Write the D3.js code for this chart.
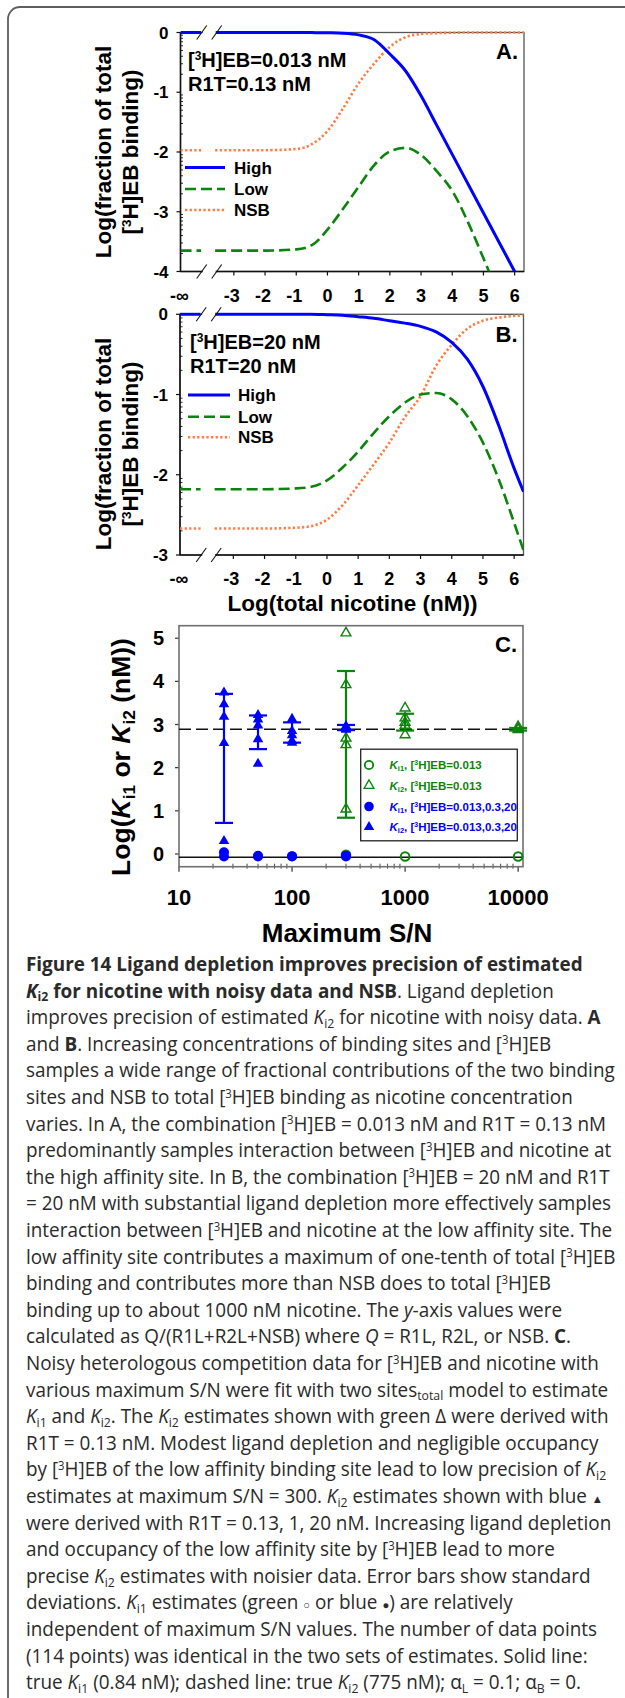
<!DOCTYPE html>
<html><head><meta charset="utf-8">
<script src="https://cdn.jsdelivr.net/npm/d3@7"></script>
<style>body{margin:0;background:#fff}svg{display:block}</style>
</head><body>
<svg id="c" width="625" height="1698"></svg>
<script>
// ---------- DATA ----------
const xTicksAB = [-3,-2,-1,0,1,2,3,4,5,6];
const xInfLabel = "-\u221E";
const curveX = [-3.6,-3,-2,-1,-0.5,0,0.5,1,1.5,2,2.5,3,3.5,4,4.5,5,5.5,6,6.3];
// Panel A (log fraction of total binding)
const highA = [0,0,0,0,-0.002,-0.005,-0.012,-0.04,-0.12,-0.36,-0.64,-1.06,-1.55,-2.04,-2.53,-3.02,-3.51,-4.0,-4.3];
const lowA  = [-3.65,-3.65,-3.65,-3.63,-3.56,-3.3,-2.95,-2.58,-2.22,-1.99,-1.93,-2.05,-2.32,-2.65,-3.17,-3.78,-4.4,null,null];
const nsbA  = [-1.97,-1.97,-1.97,-1.95,-1.87,-1.65,-1.27,-0.85,-0.52,-0.24,-0.08,-0.025,-0.01,-0.005,0,0,0,0,0];
const yTicksA = [0,-1,-2,-3,-4];
// Panel B
const highB = [0,0,0,0,0,-0.005,-0.012,-0.03,-0.05,-0.08,-0.11,-0.15,-0.22,-0.35,-0.56,-0.9,-1.38,-1.92,-2.21];
const lowB  = [-2.18,-2.18,-2.18,-2.17,-2.15,-2.07,-1.91,-1.71,-1.48,-1.27,-1.1,-1.0,-0.98,-1.06,-1.27,-1.6,-2.05,-2.6,-2.94];
const nsbB  = [-2.67,-2.67,-2.67,-2.66,-2.64,-2.56,-2.38,-2.13,-1.87,-1.6,-1.28,-1.02,-0.64,-0.38,-0.18,-0.08,-0.04,-0.02,-0.01];
const yTicksB = [0,-1,-2,-3];
const seriesNames = ["High","Low","NSB"];
// Panel C
const xTicksC = [10,100,1000,10000];
const yTicksC = [0,1,2,3,4,5];
const snBlue = [25,50,100,300];
const ki2Blue = [[3.74,3.47,3.18,2.57,0.30],[3.22,3.12,2.98,2.66,2.09],[3.13,2.85,2.75,2.62,2.58],[2.96,2.92,2.88,2.95,2.90]];
const ki1Blue = [[0.04,-0.06],[-0.04,-0.06],[-0.05,-0.06],[-0.04,-0.06]];
const sdBlue  = [[0.72,3.71],[2.43,3.21],[2.58,3.05],[2.87,2.99]];
const snGreen = [300,1000,10000];
const ki2Green = [[5.12,3.92,2.68,2.53,1.04],[3.38,3.15,3.05,2.98,2.76],[2.95,2.90,2.88]];
const ki1Green = [[-0.02],[-0.06],[-0.06]];
const sdGreen  = [[0.84,4.24],[2.86,3.25],[2.86,2.92]];
const trueKi1 = Math.log10(0.84);
const trueKi2 = Math.log10(775);

// ---------- STYLE ----------
const FONT = "'Liberation Sans', Arial, Helvetica, sans-serif";
const BLUE = "#0000ff", GREEN = "#0b840b", ORANGE = "#ff7d45";
const svg = d3.select("#c");

function rich(t, segs, size) {
  let shift = 0;
  segs.forEach(([s,k]) => {
    const ts = t.append("tspan").text(s);
    let target = 0, fs = null;
    if (k.includes("sub")) { target = size*0.2; fs = size*0.65; }
    else if (k === "sup") { target = -size*0.33; fs = size*0.6; }
    else if (k === "small") { fs = size*0.6; }
    ts.attr("dy", target - shift); shift = target;
    if (fs) ts.attr("font-size", fs);
    if (k.startsWith("b")) ts.attr("font-weight", "bold");
    if (k === "i" || k === "bi") ts.attr("font-style", "italic");
  });
}

// outer border
svg.append("rect").attr("x",8).attr("y",7).attr("width",800).attr("height",2000)
  .attr("rx",12).attr("fill","none").attr("stroke","#5e5e5e").attr("stroke-width",1.8);

// ---------- PANELS A & B ----------
function panelAB(c) {
  const x = d3.scaleLinear().domain([-4.71, 6.3]).range([c.left, c.right]);
  const y = d3.scaleLinear().domain([c.yMin, 0]).range([c.bottom, c.top]);
  const g = svg.append("g").attr("font-family", FONT);
  const cid = "clip" + c.label;
  svg.append("clipPath").attr("id", cid).append("rect")
    .attr("x", c.left).attr("y", c.top - 2).attr("width", c.right - c.left).attr("height", c.bottom - c.top + 2);

  // frame
  g.append("rect").attr("x", c.left).attr("y", c.top).attr("width", c.right - c.left).attr("height", c.bottom - c.top)
    .attr("fill","none").attr("stroke","#555").attr("stroke-width",1.3);
  g.append("line").attr("x1",c.left).attr("x2",c.left).attr("y1",c.top).attr("y2",c.bottom).attr("stroke","#111").attr("stroke-width",1.5);
  g.append("line").attr("x1",c.left).attr("x2",c.right).attr("y1",c.bottom).attr("y2",c.bottom).attr("stroke","#111").attr("stroke-width",1.5);

  // y ticks major + log minor
  c.yTicks.forEach(v => {
    g.append("line").attr("x1", c.left - 4).attr("x2", c.left).attr("y1", y(v)).attr("y2", y(v)).attr("stroke","#111").attr("stroke-width",1.2);
    g.append("text").attr("x", c.left - 12).attr("y", y(v) + 6).attr("text-anchor","end")
      .attr("font-size",17).attr("font-weight","bold").text(v);
  });
  for (let d = c.yMin; d < 0; d++) for (let k = 2; k <= 9; k++) {
    const v = d + Math.log10(k);
    g.append("line").attr("x1", c.left).attr("x2", c.left + 2.5).attr("y1", y(v)).attr("y2", y(v)).attr("stroke","#111").attr("stroke-width",0.9);
  }
  // x ticks
  xTicksAB.forEach(v => {
    g.append("line").attr("x1", x(v)).attr("x2", x(v)).attr("y1", c.bottom).attr("y2", c.bottom + 4).attr("stroke","#111").attr("stroke-width",1.2);
    g.append("text").attr("x", x(v) + (v < 0 ? -2 : 0)).attr("y", c.bottom + 30).attr("text-anchor","middle")
      .attr("font-size",18).attr("font-weight","bold").text(v);
  });
  g.append("text").attr("x", x(-4.71) - 1).attr("y", c.bottom + 30).attr("text-anchor","middle")
    .attr("font-size",18).attr("font-weight","bold").text(xInfLabel);

  // curves
  const cg = g.append("g").attr("clip-path", `url(#${cid})`);
  const series = [
    {v: c.nsb, color: ORANGE, w: 2.6, dash: "2.3,2.3"},
    {v: c.low, color: GREEN, w: 2.6, dash: "11,5"},
    {v: c.high, color: BLUE, w: 3, dash: null}
  ];
  const line = d3.line().defined(d => d[1] != null).x(d => x(d[0])).y(d => y(d[1])).curve(d3.curveMonotoneX);
  series.forEach(s => {
    const pts = curveX.map((xx, i) => [xx, s.v[i]]);
    cg.append("path").attr("d", line(pts)).attr("fill","none").attr("stroke", s.color)
      .attr("stroke-width", s.w).attr("stroke-dasharray", s.dash);
    cg.append("path").attr("d", line([[-4.71, s.v[0]],[-4.05, s.v[0]]])).attr("fill","none").attr("stroke", s.color)
      .attr("stroke-width", s.w).attr("stroke-dasharray", s.dash);
  });

  // axis breaks
  const bx1 = x(-4.03), bx2 = x(-3.55);
  [c.top, c.bottom].forEach(yy => {
    g.append("rect").attr("x", bx1 + 1).attr("y", yy - 2).attr("width", bx2 - bx1 - 2).attr("height", 4).attr("fill","#fff");
    [bx1, bx2].forEach(bx => {
      g.append("line").attr("x1", bx - 5).attr("x2", bx + 5).attr("y1", yy + 7).attr("y2", yy - 7)
        .attr("stroke","#111").attr("stroke-width",1.1);
    });
  });

  // panel label
  g.append("text").attr("x", c.right - 6).attr("y", c.labelY).attr("text-anchor","end")
    .attr("font-size",22).attr("font-weight","bold").text(c.label + ".");
  // condition text
  const t1 = g.append("text").attr("x", c.txtX).attr("y", c.txtY1).attr("font-size",20).attr("font-weight","bold");
  rich(t1, [["[",""],["3","sup"],[c.txt1,""]], 20);
  g.append("text").attr("x", c.txtX).attr("y", c.txtY2).attr("font-size",20).attr("font-weight","bold").text(c.txt2);

  // legend
  series.slice().reverse().forEach((s, i) => {
    const ly = c.legY[i];
    g.append("line").attr("x1", c.legX0).attr("x2", c.legX1).attr("y1", ly).attr("y2", ly)
      .attr("stroke", s.color).attr("stroke-width", s.w).attr("stroke-dasharray", s.dash);
    g.append("text").attr("x", c.legTX).attr("y", ly + 6).attr("font-size",17).attr("font-weight","bold").text(seriesNames[i]);
  });

  // y title
  const tt = g.append("g").attr("transform", `translate(0,${c.titleCY})`);
  tt.append("text").attr("transform","translate(111,0) rotate(-90)").attr("text-anchor","middle")
    .attr("font-size",22.5).attr("font-weight","bold").text("Log(fraction of total");
  const t2 = tt.append("text").attr("transform","translate(138,0) rotate(-90)").attr("text-anchor","middle")
    .attr("font-size",22.5).attr("font-weight","bold");
  rich(t2, [["[",""],["3","sup"],["H]EB binding)",""]], 22.5);
}

panelAB({label:"A", left:180.5, right:524, top:32.5, bottom:271.5, yMin:-4, yTicks: yTicksA,
  high: highA, low: lowA, nsb: nsbA, labelY: 58.5,
  txtX: 188, txtY1: 67, txtY2: 91, txt1: "H]EB=0.013 nM", txt2: "R1T=0.13 nM",
  legY: [167.5, 189, 210], legX0: 185, legX1: 225, legTX: 234, titleCY: 152});

panelAB({label:"B", left:180, right:523.5, top:314.3, bottom:555, yMin:-3, yTicks: yTicksB,
  high: highB, low: lowB, nsb: nsbB, labelY: 341.5,
  txtX: 190, txtY1: 349, txtY2: 373, txt1: "H]EB=20 nM", txt2: "R1T=20 nM",
  legY: [395, 416.7, 437.3], legX0: 188, legX1: 230, legTX: 238, titleCY: 444});

// x title for A/B
svg.append("text").attr("x", 352.5).attr("y", 611).attr("text-anchor","middle").attr("font-family",FONT)
  .attr("font-size",22.5).attr("font-weight","bold").text("Log(total nicotine (nM))");

// ---------- PANEL C ----------
(function(){
  const L = 179, R = 523, T = 625.7, B = 866.7;
  const x = d3.scaleLog().domain([10, 11040]).range([L, R]);
  const y = d3.scaleLinear().domain([-0.295, 5.29]).range([B, T]);
  const g = svg.append("g").attr("font-family", FONT);

  // minor x ticks
  for (let d = 1; d <= 4; d++) for (let k = 2; k <= 9; k++) {
    const v = k * Math.pow(10, d);
    if (v > 11040) continue;
    g.append("line").attr("x1", x(v)).attr("x2", x(v)).attr("y1", B - 3).attr("y2", B + 2).attr("stroke","#333").attr("stroke-width",0.9);
  }
  xTicksC.forEach(v => {
    g.append("line").attr("x1", x(v)).attr("x2", x(v)).attr("y1", B).attr("y2", B + 5).attr("stroke","#333").attr("stroke-width",1.2);
    g.append("text").attr("x", x(v)).attr("y", 904.5).attr("text-anchor","middle").attr("font-size",22).attr("font-weight","bold").text(v);
  });
  yTicksC.forEach(v => {
    g.append("line").attr("x1", L - 4).attr("x2", L).attr("y1", y(v)).attr("y2", y(v)).attr("stroke","#333").attr("stroke-width",1.2);
    g.append("text").attr("x", L - 15).attr("y", y(v) + 7).attr("text-anchor","end").attr("font-size",20).attr("font-weight","bold").text(v);
  });
  g.append("rect").attr("x", L).attr("y", T).attr("width", R - L).attr("height", B - T)
    .attr("fill","none").attr("stroke","#707070").attr("stroke-width",1.6);

  // reference lines
  g.append("line").attr("x1", L).attr("x2", R).attr("y1", y(trueKi2)).attr("y2", y(trueKi2))
    .attr("stroke","#111").attr("stroke-width",1.5).attr("stroke-dasharray","12,5");
  g.append("line").attr("x1", L).attr("x2", R).attr("y1", y(trueKi1)).attr("y2", y(trueKi1))
    .attr("stroke","#111").attr("stroke-width",1.5);

  const tri = d3.symbol(d3.symbolTriangle, 48)();
  const triO = d3.symbol(d3.symbolTriangle, 42)();
  function errbar(sn, sd, color) {
    const xx = x(sn);
    g.append("line").attr("x1", xx).attr("x2", xx).attr("y1", y(sd[0])).attr("y2", y(sd[1])).attr("stroke", color).attr("stroke-width",2.2);
    sd.forEach(v => g.append("line").attr("x1", xx - 9).attr("x2", xx + 9).attr("y1", y(v)).attr("y2", y(v)).attr("stroke", color).attr("stroke-width",2.2));
  }
  // green (R1T = 0.13)
  snGreen.forEach((sn, i) => {
    errbar(sn, sdGreen[i], GREEN);
    ki2Green[i].forEach(v => g.append("path").attr("d", triO).attr("transform", `translate(${x(sn)},${y(v)})`)
      .attr("fill","none").attr("stroke", GREEN).attr("stroke-width",1.4));
    ki1Green[i].forEach(v => g.append("circle").attr("cx", x(sn)).attr("cy", y(v)).attr("r",4.3)
      .attr("fill","none").attr("stroke", GREEN).attr("stroke-width",2));
  });
  // blue
  snBlue.forEach((sn, i) => {
    errbar(sn, sdBlue[i], BLUE);
    ki2Blue[i].forEach(v => g.append("path").attr("d", tri).attr("transform", `translate(${x(sn)},${y(v)})`).attr("fill", BLUE));
    ki1Blue[i].forEach(v => g.append("circle").attr("cx", x(sn)).attr("cy", y(v)).attr("r",5).attr("fill", BLUE));
  });

  // legend
  g.append("rect").attr("x", 360.7).attr("y", 749.2).attr("width", 156.6).attr("height", 91.6)
    .attr("fill","#fff").attr("stroke","#222").attr("stroke-width",1.3);
  const rows = [
    {y:765, color:GREEN, sym:"oc", sub:"i1", tail:"H]EB=0.013"},
    {y:785.5, color:GREEN, sym:"ot", sub:"i2", tail:"H]EB=0.013"},
    {y:806.5, color:BLUE, sym:"fc", sub:"i1", tail:"H]EB=0.013,0.3,20"},
    {y:827, color:BLUE, sym:"ft", sub:"i2", tail:"H]EB=0.013,0.3,20"}
  ];
  rows.forEach(r => {
    const sx = 369;
    if (r.sym === "oc") g.append("circle").attr("cx", sx).attr("cy", r.y).attr("r",4.2).attr("fill","none").attr("stroke", r.color).attr("stroke-width",1.8);
    if (r.sym === "fc") g.append("circle").attr("cx", sx).attr("cy", r.y).attr("r",4.8).attr("fill", r.color);
    if (r.sym === "ot") g.append("path").attr("d", triO).attr("transform", `translate(${sx},${r.y})`).attr("fill","none").attr("stroke", r.color).attr("stroke-width",1.3);
    if (r.sym === "ft") g.append("path").attr("d", tri).attr("transform", `translate(${sx},${r.y})`).attr("fill", r.color);
    const t = g.append("text").attr("x", 389.5).attr("y", r.y + 4).attr("font-size",11.5).attr("font-weight","bold").attr("fill", r.color);
    rich(t, [["K","bi"],[r.sub,"bsub"],[", [","b"],["3","sup"],[r.tail,"b"]], 11.5);
  });

  g.append("text").attr("x", 517).attr("y", 652).attr("text-anchor","end").attr("font-size",22).attr("font-weight","bold").text("C.");
  g.append("text").attr("x", 347).attr("y", 942).attr("text-anchor","middle").attr("font-size",26).attr("font-weight","bold").text("Maximum S/N");
  const yt = g.append("text").attr("transform","translate(130,757) rotate(-90)").attr("text-anchor","middle")
    .attr("font-size",26.5).attr("font-weight","bold");
  rich(yt, [["Log(","b"],["K","bi"],["i1","bsub"],[" or ","b"],["K","bi"],["i2","bsub"],[" (nM))","b"]], 26.5);
})();

// ---------- CAPTION ----------
const captionLines = [
 [["Figure 14 Ligand depletion improves precision of estimated","b"]],
 [["K","bi"],["i2","bsub"],[" for nicotine with noisy data and NSB","b"],[". Ligand depletion",""]],
 [["improves precision of estimated ",""],["K","i"],["i2","sub"],[" for nicotine with noisy data. ",""],["A","b"]],
 [["and ",""],["B","b"],[". Increasing concentrations of binding sites and [",""],["3","sup"],["H]EB",""]],
 [["samples a wide range of fractional contributions of the two binding",""]],
 [["sites and NSB to total [",""],["3","sup"],["H]EB binding as nicotine concentration",""]],
 [["varies. In A, the combination [",""],["3","sup"],["H]EB = 0.013 nM and R1T = 0.13 nM",""]],
 [["predominantly samples interaction between [",""],["3","sup"],["H]EB and nicotine at",""]],
 [["the high affinity site. In B, the combination [",""],["3","sup"],["H]EB = 20 nM and R1T",""]],
 [["= 20 nM with substantial ligand depletion more effectively samples",""]],
 [["interaction between [",""],["3","sup"],["H]EB and nicotine at the low affinity site. The",""]],
 [["low affinity site contributes a maximum of one-tenth of total [",""],["3","sup"],["H]EB",""]],
 [["binding and contributes more than NSB does to total [",""],["3","sup"],["H]EB",""]],
 [["binding up to about 1000 nM nicotine. The ",""],["y","i"],["-axis values were",""]],
 [["calculated as Q/(R1L+R2L+NSB) where ",""],["Q","i"],[" = R1L, R2L, or NSB. ",""],["C","b"],[".",""]],
 [["Noisy heterologous competition data for [",""],["3","sup"],["H]EB and nicotine with",""]],
 [["various maximum S/N were fit with two sites",""],["total","sub"],[" model to estimate",""]],
 [["K","i"],["i1","sub"],[" and ",""],["K","i"],["i2","sub"],[". The ",""],["K","i"],["i2","sub"],[" estimates shown with green \u0394 were derived with",""]],
 [["R1T = 0.13 nM. Modest ligand depletion and negligible occupancy",""]],
 [["by [",""],["3","sup"],["H]EB of the low affinity binding site lead to low precision of ",""],["K","i"],["i2","sub"]],
 [["estimates at maximum S/N = 300. ",""],["K","i"],["i2","sub"],[" estimates shown with blue ",""],["\u25B2","small"]],
 [["were derived with R1T = 0.13, 1, 20 nM. Increasing ligand depletion",""]],
 [["and occupancy of the low affinity site by [",""],["3","sup"],["H]EB lead to more",""]],
 [["precise ",""],["K","i"],["i2","sub"],[" estimates with noisier data. Error bars show standard",""]],
 [["deviations. ",""],["K","i"],["i1","sub"],[" estimates (green ",""],["\u25CB","small"],[" or blue ",""],["\u25CF","small"],[") are relatively",""]],
 [["independent of maximum S/N values. The number of data points",""]],
 [["(114 points) was identical in the two sets of estimates. Solid line:",""]],
 [["true ",""],["K","i"],["i1","sub"],[" (0.84 nM); dashed line: true ",""],["K","i"],["i2","sub"],[" (775 nM); ",""],["\u03B1","sym"],["L","sub"],[" = 0.1; ",""],["\u03B1","sym"],["B","sub"],[" = 0.",""]]
];
(function(){
  const CS = 19.5, top = 971, lh = 26.6;
  const cg = svg.append("g").attr("font-family","'Open Sans', 'Noto Sans', sans-serif").attr("fill","#2a2a2a");
  const texts = captionLines.map((segs, i) => {
    const t = cg.append("text").attr("x", 0).attr("y", top + i * lh).attr("font-size", CS);
    rich(t, segs, CS);
    return t;
  });
  const ref = texts[4].node().getComputedTextLength();
  const k = 589 / ref;
  cg.attr("transform", `translate(26,0) scale(${k},1)`);
})();
</script>
</body></html>
